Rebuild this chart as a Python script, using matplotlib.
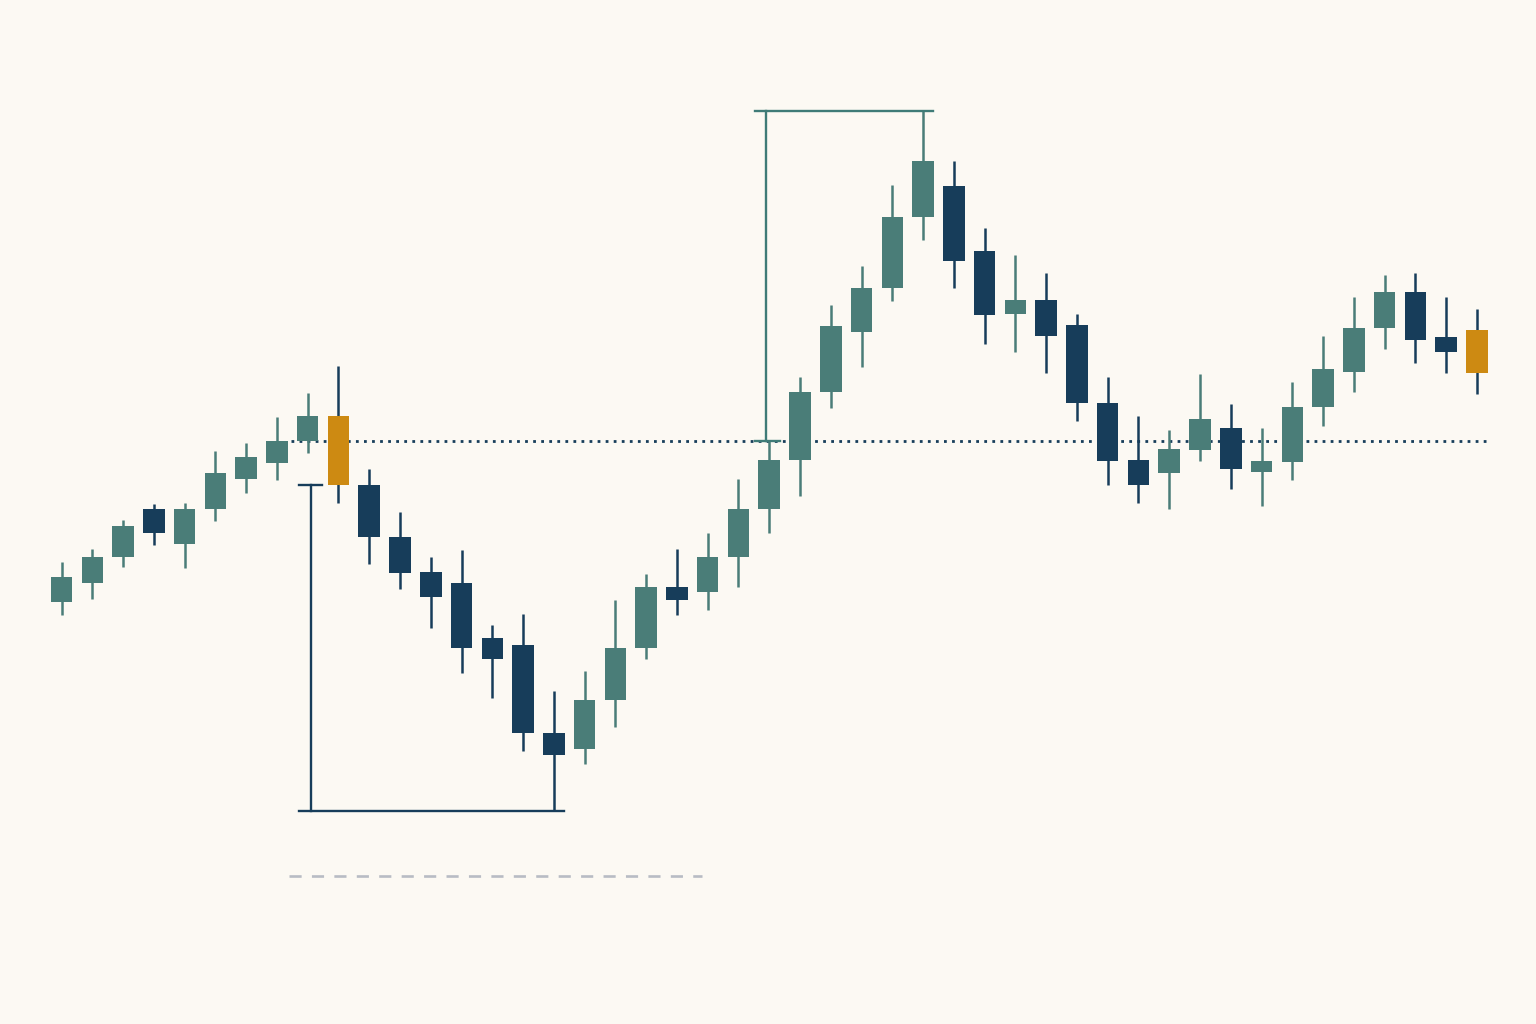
import matplotlib
matplotlib.use("Agg")
import matplotlib.pyplot as plt
import numpy as np

# ---- data ----
opens  = [59.8, 61.7, 64.3, 69.1, 65.6, 69.1, 72.1, 73.7, 75.9, 78.4,
          71.5, 66.3, 62.8, 61.7, 56.2, 55.5, 46.7, 45.1, 50.0, 55.2,
          61.3, 60.8, 64.3, 69.1, 74.0, 80.8, 86.8, 91.2, 98.3, 101.4,
          94.9, 88.6, 90.0, 87.5, 79.7, 74.0, 72.7, 75.0, 77.2, 72.8,
          73.8, 79.3, 82.8, 87.2, 90.8, 86.3, 87.0]
highs  = [63.8, 65.1, 68.0, 69.6, 69.7, 74.9, 75.7, 78.3, 80.7, 83.4,
          73.1, 68.8, 64.3, 65.0, 57.5, 58.6, 50.9, 52.9, 60.0, 62.6,
          65.1, 66.7, 72.1, 75.9, 82.3, 89.5, 93.4, 101.5, 108.9, 103.9,
          97.2, 94.5, 92.7, 88.6, 82.3, 78.4, 77.0, 82.6, 79.6, 77.2,
          81.8, 86.4, 90.3, 92.5, 92.7, 90.3, 89.1]
lows   = [58.5, 60.1, 63.3, 65.5, 63.2, 67.9, 70.7, 72.0, 74.7, 69.7,
          63.6, 61.1, 57.2, 52.7, 50.2, 44.9, 38.9, 43.6, 47.3, 54.1,
          58.5, 59.0, 61.3, 66.7, 70.4, 79.2, 83.3, 89.9, 96.0, 91.2,
          85.6, 84.8, 82.7, 77.9, 71.5, 69.7, 69.1, 73.9, 71.1, 69.4,
          72.0, 77.4, 80.8, 85.1, 83.7, 82.7, 80.6]
closes = [62.3, 64.3, 67.4, 66.7, 69.1, 72.7, 74.3, 75.9, 78.4, 71.5,
          66.3, 62.7, 60.3, 55.2, 54.1, 46.7, 44.5, 50.0, 55.2, 61.3,
          60.0, 64.3, 69.1, 74.0, 80.8, 87.4, 91.2, 98.3, 103.9, 93.9,
          88.5, 90.0, 86.4, 79.7, 73.9, 71.5, 75.1, 78.1, 73.1, 73.9,
          79.3, 83.1, 87.2, 90.8, 86.0, 84.8, 82.7]
highlighted = [9, 46]          # candles drawn in amber

reference_level = 75.9          # dotted horizontal level
lower_guide = 32.4              # light dashed guide
drop_start, drop_end = 8, 16    # bracket of the fall (candle indices)
rise_start, rise_end = 23, 28   # bracket of the rise

# ---- style ----
BG = "#fcf9f3"
TEAL = "#4a7d78"
NAVY = "#173d5a"
AMBER = "#cd8a12"
TEAL_LINE = "#3f7b77"
GREY = "#b8bcc4"

fig = plt.figure(figsize=(15.36, 10.24), dpi=100, facecolor=BG)
ax = fig.add_axes([0, 0, 1, 1], facecolor=BG)
ax.set_xlim(-2.0, 47.92)
ax.set_ylim(120 - 102.4, 120)
ax.axis("off")

x = np.arange(len(opens))
o = np.array(opens); c = np.array(closes)
h = np.array(highs); l = np.array(lows)
up = c >= o

body_col = np.where(up, TEAL, NAVY).astype(object)
for i in highlighted:
    body_col[i] = AMBER
wick_col = np.where(up, TEAL, NAVY)

ax.vlines(x, l, h, colors=wick_col, linewidth=1.8, zorder=2)
ax.bar(x, np.abs(c - o), bottom=np.minimum(o, c), width=0.7,
       color=list(body_col), linewidth=0, zorder=3)

# dotted reference level
ax.plot([7.45, 46.4], [reference_level] * 2, color=NAVY, linewidth=2.0,
        dashes=(1.0, 1.9), zorder=1)

# light dashed guide
ax.plot([7.38, 20.83], [lower_guide] * 2, color=GREY, linewidth=1.9,
        dashes=(4.6, 3.9), zorder=1)

# drop bracket (navy)
bx = drop_start + 0.1
top_d = closes[9]
bot_d = lows[drop_end]
ax.plot([bx, bx], [top_d, bot_d], color=NAVY, linewidth=1.7, zorder=4)
ax.plot([bx - 0.37, bx + 0.37], [top_d, top_d], color=NAVY, linewidth=1.7, zorder=4)
ax.plot([bx - 0.37, drop_end + 0.33], [bot_d, bot_d], color=NAVY, linewidth=1.7, zorder=4)

# rise bracket (teal)
rx = rise_start - 0.1
top_r = highs[rise_end]
ax.plot([rx, rx], [reference_level, top_r], color=TEAL_LINE, linewidth=1.7, zorder=4)
ax.plot([rx - 0.37, rx + 0.45], [reference_level] * 2, color=TEAL_LINE, linewidth=1.7, zorder=4)
ax.plot([rx - 0.37, rise_end + 0.33], [top_r, top_r], color=TEAL_LINE, linewidth=1.7, zorder=4)

fig.savefig("out.png", dpi=100, facecolor=BG)
